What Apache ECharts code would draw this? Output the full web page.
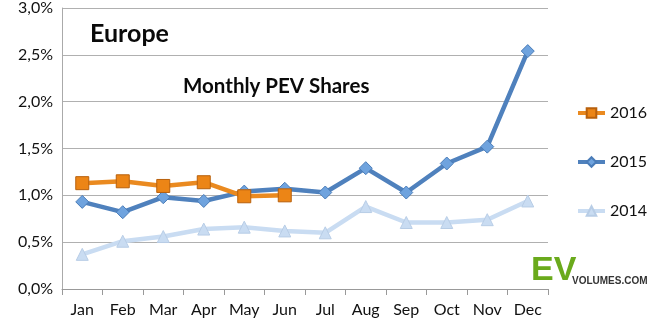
<!DOCTYPE html>
<html><head><meta charset="utf-8">
<script src="https://cdn.jsdelivr.net/npm/echarts@6/dist/echarts.min.js"></script>
<style>html,body{margin:0;padding:0;background:#fff}#c{width:650px;height:329px}</style>
</head><body><div id="c"></div>
<script>
const months = ['Jan','Feb','Mar','Apr','May','Jun','Jul','Aug','Sep','Oct','Nov','Dec'];
const s2016 = [1.13, 1.15, 1.10, 1.14, 0.99, 1.00, null, null, null, null, null, null];
const s2015 = [0.93, 0.82, 0.98, 0.94, 1.04, 1.07, 1.03, 1.29, 1.03, 1.34, 1.52, 2.54];
const s2014 = [0.37, 0.51, 0.56, 0.64, 0.66, 0.62, 0.60, 0.88, 0.71, 0.71, 0.74, 0.94];
const yTicks = [0, 0.5, 1.0, 1.5, 2.0, 2.5, 3.0];

const chart = echarts.init(document.getElementById('c'), null, {renderer:'canvas'});
const font = 'Lato, "Open Sans", sans-serif';
chart.setOption({
  animation:false,
  grid:{left:62, right:102, top:6, bottom:40, containLabel:false},
  legend:{
    orient:'vertical', left:571, top:100, itemGap:33, itemWidth:27, itemHeight:12,
    textStyle:{fontFamily:font, fontSize:16, color:'#111'},
    lineStyle:{width:4},
    data:['2016','2015','2014']
  },
  title:[
    {text:'Europe', left:85, top:16, textStyle:{fontFamily:font, fontSize:25, fontWeight:'bold', color:'#0a0a0a'}},
    {text:'Monthly PEV Shares', left:178, top:71, textStyle:{fontFamily:font, fontSize:20.5, fontWeight:'bold', color:'#0a0a0a'}}
  ],
  xAxis:{
    type:'category', data:months, boundaryGap:true,
    axisLine:{lineStyle:{color:'#999', width:1}},
    axisTick:{show:true, length:6, lineStyle:{color:'#999'}},
    axisLabel:{fontFamily:font, fontSize:16, color:'#111', margin:13}
  },
  yAxis:{
    type:'value', min:0, max:3, interval:0.5,
    axisLine:{show:true, lineStyle:{color:'#aaa'}},
    axisTick:{show:false},
    splitLine:{lineStyle:{color:'#b0b0b0', width:1}},
    axisLabel:{fontFamily:font, fontSize:16, color:'#111', margin:9,
      formatter:v=>v.toFixed(1).replace('.',',')+'%'}
  },
  series:[
    {name:'2014', type:'line', data:s2014, symbol:'triangle', symbolSize:12,
      lineStyle:{color:'#c9dcf2', width:4.5}, itemStyle:{color:'#c9dcf2', borderColor:'#b8cde6', borderWidth:1}, z:2},
    {name:'2015', type:'line', data:s2015, symbol:'diamond', symbolSize:13,
      lineStyle:{color:'#4f81bd', width:4.5}, itemStyle:{color:'#6fa3de', borderColor:'#4a7cb8', borderWidth:1}, z:3},
    {name:'2016', type:'line', data:s2016, symbol:'rect', symbolSize:13,
      lineStyle:{color:'#ea8a20', width:4.5}, itemStyle:{color:'#ec8516', borderColor:'#b8600c', borderWidth:1}, z:4}
  ],
  graphic:[
    {type:'text', left:531, top:254, style:{text:'EV', fontFamily:'"Liberation Sans", Arial, sans-serif', fontSize:34, fontWeight:'bold', fill:'#6aaa1c'}},
    {type:'text', left:572, top:276, style:{text:'VOLUMES.COM', fontFamily:'"Liberation Sans", Arial, sans-serif', fontSize:10, fontWeight:'bold', fill:'#333'}}
  ]
});
</script></body></html>
